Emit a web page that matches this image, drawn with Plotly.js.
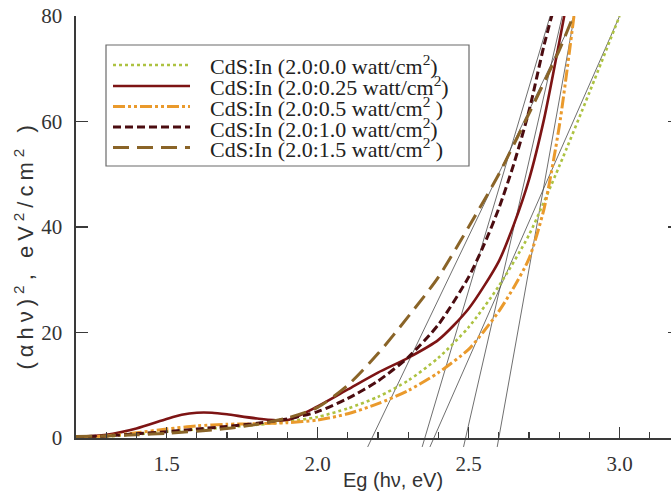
<!DOCTYPE html>
<html>
<head>
<meta charset="utf-8">
<script src="https://cdn.plot.ly/plotly-3.0.1.min.js"></script>
<style>
html,body{margin:0;padding:0;overflow:hidden;background:#ffffff;}
</style>
</head>
<body>
<div id="chart"></div>
<script>
// ---------------- data ----------------
const seriesPower = ['0.0', '0.25', '0.5', '1.0', '1.5'];
const seriesLabels = [
  'CdS:In (2.0:0.0 watt/cm<sup>2</sup>)',
  'CdS:In (2.0:0.25 watt/cm<sup>2</sup>)',
  'CdS:In (2.0:0.5 watt/cm<sup>2</sup> )',
  'CdS:In (2.0:1.0 watt/cm<sup>2</sup>)',
  'CdS:In (2.0:1.5 watt/cm<sup>2</sup> )'
];

const eg00 = [1.2,1.3,1.4,1.5,1.6,1.7,1.8,1.9,2.0,2.1,2.2,2.3,2.4,2.5,2.6,2.7,2.8,2.9,3.0];
const ah00 = [0.1,0.3,0.7,1.2,1.6,2.0,2.5,3.1,4.0,5.6,7.8,10.9,15.2,21.0,28.8,38.5,51.5,65.5,80];

const eg025 = [1.2,1.3,1.4,1.5,1.55,1.6,1.65,1.7,1.8,1.9,2.0,2.1,2.2,2.3,2.4,2.5,2.6,2.65,2.7,2.75,2.8,2.82];
const ah025 = [0.2,0.6,1.8,3.6,4.4,4.8,4.8,4.5,3.7,3.4,6.0,9.2,12.4,15.2,18.6,24.5,33.5,40.5,49.0,60.5,75.0,81];

const eg05 = [1.2,1.3,1.4,1.5,1.6,1.7,1.8,1.9,2.0,2.1,2.2,2.3,2.4,2.5,2.55,2.6,2.65,2.7,2.75,2.8,2.85];
const ah05 = [0.1,0.4,1.0,1.7,2.3,2.6,2.7,2.9,3.4,4.6,6.5,9.0,12.4,16.8,20.2,24.0,28.6,34.0,43.5,59.0,80.5];

const eg10 = [1.2,1.3,1.4,1.5,1.6,1.7,1.8,1.9,2.0,2.1,2.2,2.3,2.4,2.5,2.55,2.6,2.65,2.7,2.75,2.78];
const ah10 = [0.2,0.4,0.8,1.2,1.7,2.2,2.8,3.6,5.0,7.5,10.8,15.3,21.5,30.5,36.5,43.5,52.0,62.0,74.5,81];

const eg15 = [1.2,1.3,1.4,1.5,1.6,1.7,1.8,1.9,2.0,2.1,2.2,2.3,2.4,2.5,2.6,2.7,2.8,2.85];
const ah15 = [0.3,0.4,0.6,0.9,1.3,1.8,2.6,3.8,5.8,10.0,16.0,23.0,30.5,40.0,50.0,61.5,73.5,80.5];

// Tauc extrapolation lines: intercept on the Eg axis and upper end point
const tangentIntercept = [2.18, 2.385, 2.49, 2.355, 2.60];
const tangentTopEg     = [2.85, 3.00, 2.81, 2.77, 2.85];
const tangentTopVal    = 80;
const tangentLowVal    = -1.7;

const xTickVals = [1.5, 2.0, 2.5, 3.0];
const xTickText = ['1.5', '2.0', '2.5', '3.0'];
const yTickVals = [0, 20, 40, 60, 80];
const yTickText = ['0', '20', '40', '60', '80'];

const xRange = [1.2, 3.2];
const yRange = [0, 80];

// ---------------- styles ----------------
const egList = [eg00, eg025, eg05, eg10, eg15];
const ahList = [ah00, ah025, ah05, ah10, ah15];
const colors = ['#adc241', '#7d1414', '#ea9a2c', '#4b0c10', '#8a6428'];
const widths = [2.6, 2.6, 3, 3, 3];
const dashes = ['3px,3px', 'solid', '12px,3px,3px,3px,3px,3px', '8px,4px', '16px,8px'];

// ---------------- geometry ----------------
const W = 690, H = 495;
const M = {l: 76, r: 10, t: 16, b: 57};
const PW = W - M.l - M.r, PH = H - M.t - M.b;
const px2fx = p => (p - M.l) / PW;
const py2fy = p => (H - M.b - p) / PH;
const valToPaperY = v => (v - yRange[0]) / (yRange[1] - yRange[0]);

const traces = egList.map((eg, i) => ({
  type: 'scatter', mode: 'lines',
  x: eg, y: ahList[i],
  name: seriesLabels[i],
  showlegend: false,
  line: {color: colors[i], width: widths[i], dash: dashes[i], shape: 'spline', smoothing: 0.7},
  hoverinfo: 'x+y+name'
}));

const shapes = [];
// tangent lines
tangentIntercept.forEach((e0, i) => {
  const e1 = tangentTopEg[i];
  const slope = (tangentTopVal - 0) / (e1 - e0);
  const eLow = e0 + tangentLowVal / slope;
  shapes.push({
    type: 'line', xref: 'x', yref: 'paper', layer: 'below',
    x0: eLow, y0: valToPaperY(tangentLowVal),
    x1: e1, y1: valToPaperY(tangentTopVal),
    line: {color: '#4a4a4a', width: 0.8}
  });
});

// legend box
shapes.push({
  type: 'rect', xref: 'paper', yref: 'paper', layer: 'above',
  x0: px2fx(106), x1: px2fx(469), y0: py2fy(166), y1: py2fy(45),
  line: {color: '#6a6a6a', width: 1.2}, fillcolor: 'rgba(255,255,255,1)'
});
const rowSample = [65, 86, 106.5, 127, 147.5];
const rowText = [65.5, 86.5, 107, 127.5, 148];
const annotations = [];
seriesLabels.forEach((lab, i) => {
  shapes.push({
    type: 'line', xref: 'paper', yref: 'paper', layer: 'above',
    x0: px2fx(113), x1: px2fx(190), y0: py2fy(rowSample[i]), y1: py2fy(rowSample[i]),
    line: {color: colors[i], width: widths[i], dash: dashes[i]}
  });
  annotations.push({
    xref: 'paper', yref: 'paper', x: px2fx(208), y: py2fy(rowText[i]),
    xanchor: 'left', yanchor: 'middle', showarrow: false, text: lab,
    font: {family: 'Liberation Serif, Times New Roman, serif', size: 22, color: '#222'}
  });
});

// axis titles
annotations.push({
  xref: 'paper', yref: 'paper', x: px2fx(393), y: py2fy(480),
  xanchor: 'center', yanchor: 'middle', showarrow: false,
  text: 'Eg (hν, eV)',
  font: {family: 'Liberation Sans, Arial, sans-serif', size: 20, color: '#333'}
});
annotations.push({
  xref: 'paper', yref: 'paper', x: px2fx(24), y: py2fy(245),
  xanchor: 'center', yanchor: 'middle', showarrow: false, textangle: -90,
  text: '(αhν)<sup>2</sup>, eV<sup>2</sup>/cm<sup>2</sup> )',
  font: {family: 'Liberation Sans, Arial, sans-serif', size: 22, color: '#333'}
});

const tickFont = {family: 'Liberation Serif, Times New Roman, serif', size: 21, color: '#333'};
const axCol = '#3a3a3a';

const layout = {
  width: W, height: H,
  margin: M,
  paper_bgcolor: '#ffffff', plot_bgcolor: '#ffffff',
  showlegend: false,
  xaxis: {
    range: xRange, tickmode: 'array', tickvals: xTickVals, ticktext: xTickText,
    ticks: 'inside', ticklen: 11, tickwidth: 1.3, tickcolor: axCol,
    showline: true, linecolor: axCol, linewidth: 1.6, mirror: false,
    showgrid: false, zeroline: false, tickfont: tickFont, ticklabelstandoff: 6,
    minor: {tickmode: 'linear', tick0: 1.2, dtick: 0.1, ticks: 'inside', ticklen: 6, tickwidth: 1.1, tickcolor: axCol, showgrid: false}
  },
  xaxis2: {
    overlaying: 'x', matches: 'x', anchor: 'y', side: 'top', range: xRange,
    tickmode: 'array', tickvals: xTickVals, ticktext: xTickText, showticklabels: false,
    ticks: 'inside', ticklen: 12, tickwidth: 1.3, tickcolor: axCol,
    showline: true, linecolor: axCol, linewidth: 1.6, showgrid: false, zeroline: false
  },
  yaxis: {
    range: yRange, tickmode: 'array', tickvals: yTickVals, ticktext: yTickText,
    ticks: 'inside', ticklen: 12, tickwidth: 1.3, tickcolor: axCol,
    showline: true, linecolor: axCol, linewidth: 1.6, mirror: 'ticks',
    showgrid: false, zeroline: false, tickfont: tickFont, ticklabelstandoff: 8
  },
  shapes: shapes,
  annotations: annotations
};

Plotly.newPlot('chart', traces, layout, {displayModeBar: false, staticPlot: true}).then(gd => {
  // the reference's vertical title is drawn with wide letter spacing
  const texts = gd.querySelectorAll('.annotation-text');
  const yTitle = texts[texts.length - 1];
  if (yTitle) yTitle.style.letterSpacing = '5px';
});
</script>
</body>
</html>
